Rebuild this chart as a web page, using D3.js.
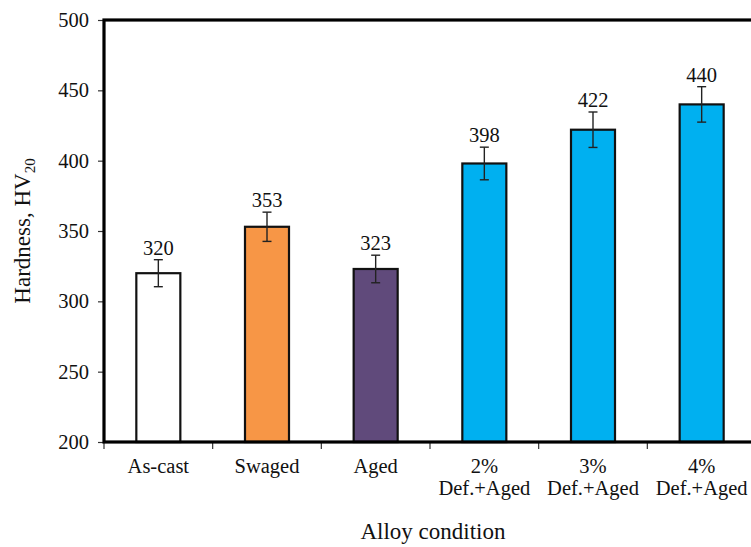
<!DOCTYPE html>
<html>
<head>
<meta charset="utf-8">
<script src="https://cdn.jsdelivr.net/npm/d3@7"></script>
<style>
  html, body { margin: 0; padding: 0; background: #fff; }
  svg { display: block; }
  svg text { fill: #111; }
</style>
</head>
<body>
<svg id="chart" width="751" height="547"></svg>
<script>
// Hardness by alloy condition
const categories = ["As-cast", "Swaged", "Aged", "2%\nDef.+Aged", "3%\nDef.+Aged", "4%\nDef.+Aged"];
const hardness = [320, 353, 323, 398, 422, 440];
const errors = [9.6, 10.4, 9.8, 11.6, 12.6, 12.6];
const fills = ["#ffffff", "#f79646", "#604a7b", "#00b0f0", "#00b0f0", "#00b0f0"];
const yTicks = [200, 250, 300, 350, 400, 450, 500];

const serif = "'Liberation Serif', 'Times New Roman', serif";
const svg = d3.select("#chart");
const plotL = 104, plotR = 756, plotT = 20, plotB = 442;

const x = d3.scaleBand().domain(categories).range([plotL, plotR]).paddingInner(0).paddingOuter(0);
const y = d3.scaleLinear().domain([200, 500]).range([plotB, plotT]);

const barW = x.bandwidth() * 0.405;
const data = categories.map((c, i) => ({ c, v: hardness[i], e: errors[i], f: fills[i] }));

// bars
svg.append("g").selectAll("rect").data(data).join("rect")
  .attr("x", d => x(d.c) + x.bandwidth() / 2 - barW / 2)
  .attr("y", d => y(d.v))
  .attr("width", barW)
  .attr("height", d => y(200) - y(d.v))
  .attr("fill", d => d.f)
  .attr("stroke", "#111")
  .attr("stroke-width", 2.2);

// error bars
const eb = svg.append("g").attr("stroke", "#222").attr("stroke-width", 1.4);
data.forEach(d => {
  const cx = x(d.c) + x.bandwidth() / 2;
  eb.append("line").attr("x1", cx).attr("x2", cx).attr("y1", y(d.v + d.e)).attr("y2", y(d.v - d.e));
  [d.v + d.e, d.v - d.e].forEach(v => {
    eb.append("line").attr("x1", cx - 4.5).attr("x2", cx + 4.5).attr("y1", y(v)).attr("y2", y(v));
  });
});

// value labels
svg.append("g").selectAll("text").data(data).join("text")
  .attr("x", d => x(d.c) + x.bandwidth() / 2)
  .attr("y", d => y(d.v + d.e) - 5)
  .attr("text-anchor", "middle")
  .style("font-family", serif)
  .style("font-size", "20.5px")
  .text(d => d.v);

// y axis
const yAxis = svg.append("g").attr("transform", `translate(${plotL},0)`)
  .call(d3.axisLeft(y).tickValues(yTicks).tickSize(6).tickPadding(9));
yAxis.attr("font-family", null).attr("font-size", null);
yAxis.select(".domain").remove();
yAxis.selectAll(".tick line").attr("stroke", "#333").attr("stroke-width", 1.2);
yAxis.selectAll(".tick text")
  .style("font-family", serif).style("font-size", "20.5px").attr("fill", "#111");

// x axis ticks at category boundaries
const xb = categories.map(c => x(c)).concat([plotR]);
svg.append("g").selectAll("line").data(xb).join("line")
  .attr("x1", d => d).attr("x2", d => d)
  .attr("y1", plotB).attr("y2", plotB + 7)
  .attr("stroke", "#333").attr("stroke-width", 1.2);

// category labels
const catG = svg.append("g");
categories.forEach(c => {
  const lines = c.split("\n");
  const t = catG.append("text")
    .attr("x", x(c) + x.bandwidth() / 2)
    .attr("y", 473)
    .attr("text-anchor", "middle")
    .style("font-family", serif)
    .style("font-size", "20.5px");
  lines.forEach((l, i) => {
    t.append("tspan").attr("x", x(c) + x.bandwidth() / 2).attr("dy", i === 0 ? 0 : 21.5).text(l);
  });
});

// plot frame
svg.append("rect")
  .attr("x", plotL).attr("y", plotT)
  .attr("width", plotR - plotL).attr("height", plotB - plotT)
  .attr("fill", "none").attr("stroke", "#000").attr("stroke-width", 3.2);

// axis titles
svg.append("text")
  .attr("x", (plotL + plotR) / 2 + 3)
  .attr("y", 539)
  .attr("text-anchor", "middle")
  .style("font-family", serif)
  .style("font-size", "23px")
  .text("Alloy condition");

const yt = svg.append("text")
  .attr("transform", `translate(30,${(plotT + plotB) / 2}) rotate(-90)`)
  .attr("text-anchor", "middle")
  .style("font-family", serif)
  .style("font-size", "23px");
yt.append("tspan").text("Hardness, HV");
yt.append("tspan").style("font-size", "15px").attr("dy", 5).text("20");
</script>
</body>
</html>
